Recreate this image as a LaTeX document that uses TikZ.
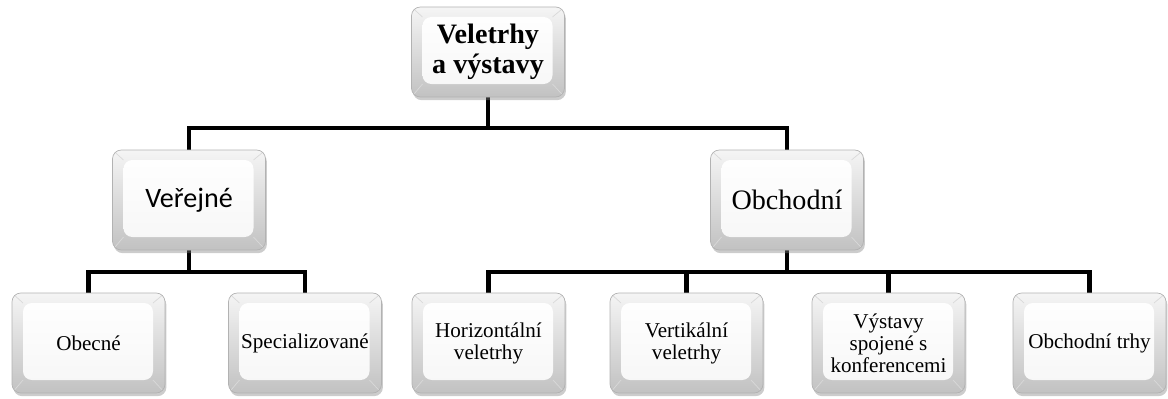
\documentclass[tikz,border=0pt]{standalone}
\usepackage{fontspec}
\setmainfont{Liberation Serif}
\newfontfamily\calibrifont{Carlito}
\usetikzlibrary{positioning, calc, shadows, backgrounds}

\begin{document}
\begin{tikzpicture}[
  keybox/.style={rounded corners=5pt, draw=gray!60, thin,
    top color=gray!8, bottom color=gray!48,
    minimum width=3.06cm, minimum height=2cm, align=center,
    drop shadow={shadow xshift=0.8pt, shadow yshift=-1.8pt, opacity=0.4},
    path picture={
      \path[top color=white, bottom color=gray!7]
        ([xshift=0.22cm, yshift=-0.2cm]path picture bounding box.north west)
        rectangle ([xshift=-0.24cm, yshift=0.26cm]path picture bounding box.south east);
      \draw[gray!30, thin]
        (path picture bounding box.north west) -- ++(0.22cm,-0.2cm)
        (path picture bounding box.north east) -- ++(-0.24cm,-0.2cm)
        (path picture bounding box.south west) -- ++(0.22cm,0.26cm)
        (path picture bounding box.south east) -- ++(-0.24cm,0.26cm);
    }},
  topbox/.style={keybox, minimum height=1.8cm, font=\fontsize{16}{17}\selectfont\bfseries},
  midbox/.style={keybox, font=\fontsize{16}{18}\selectfont},
  leafbox/.style={keybox, font=\fontsize{12}{12.5}\selectfont},
  conn/.style={line width=2.8pt, black},
]
\useasboundingbox (0,0) rectangle (23.36,7.96);

%% ── Top node ─────────────────────────────────────────────────────────────────
\node[topbox] (veletrhy) at (9.76, 6.92) {Veletrhy\\a výstavy};

%% ── Second level ─────────────────────────────────────────────────────────────
\node[midbox, font=\fontsize{16}{18}\selectfont\calibrifont] (verejne) at (3.78, 3.96) {Veřejné};
\node[midbox] (obchodni) at (15.74, 3.96) {Obchodní};

%% ── Third level ──────────────────────────────────────────────────────────────
\node[leafbox] (obecne)  at (1.77, 1.10) {Obecné};
\node[leafbox] (special) at (6.10, 1.10) {Specializované};
\node[leafbox] (horiz)   at (9.77, 1.10) {Horizontální\\veletrhy};
\node[leafbox] (vertik)  at (13.73, 1.10) {Vertikální\\veletrhy};
\node[leafbox] (konfer)  at (17.77, 1.10) {Výstavy\\spojené s\\konferencemi};
\node[leafbox] (trhy)    at (21.79, 1.10) {Obchodní trhy};

%% ── Bus lines ────────────────────────────────────────────────────────────────
\coordinate (bus1) at (0, 5.40);
\coordinate (bus2) at (0, 2.52);

%% ── Connectors ───────────────────────────────────────────────────────────────
\begin{scope}[on background layer]
\foreach \dst in {verejne, obchodni} {
  \draw[conn] (veletrhy.south) |- (\dst.north |- bus1) -- (\dst.north);
}
\foreach \dst in {obecne, special} {
  \draw[conn] (verejne.south) |- (\dst.north |- bus2) -- (\dst.north);
}
\foreach \dst in {horiz, vertik, konfer, trhy} {
  \draw[conn] (obchodni.south) |- (\dst.north |- bus2) -- (\dst.north);
}
\end{scope}

\end{tikzpicture}
\end{document}
